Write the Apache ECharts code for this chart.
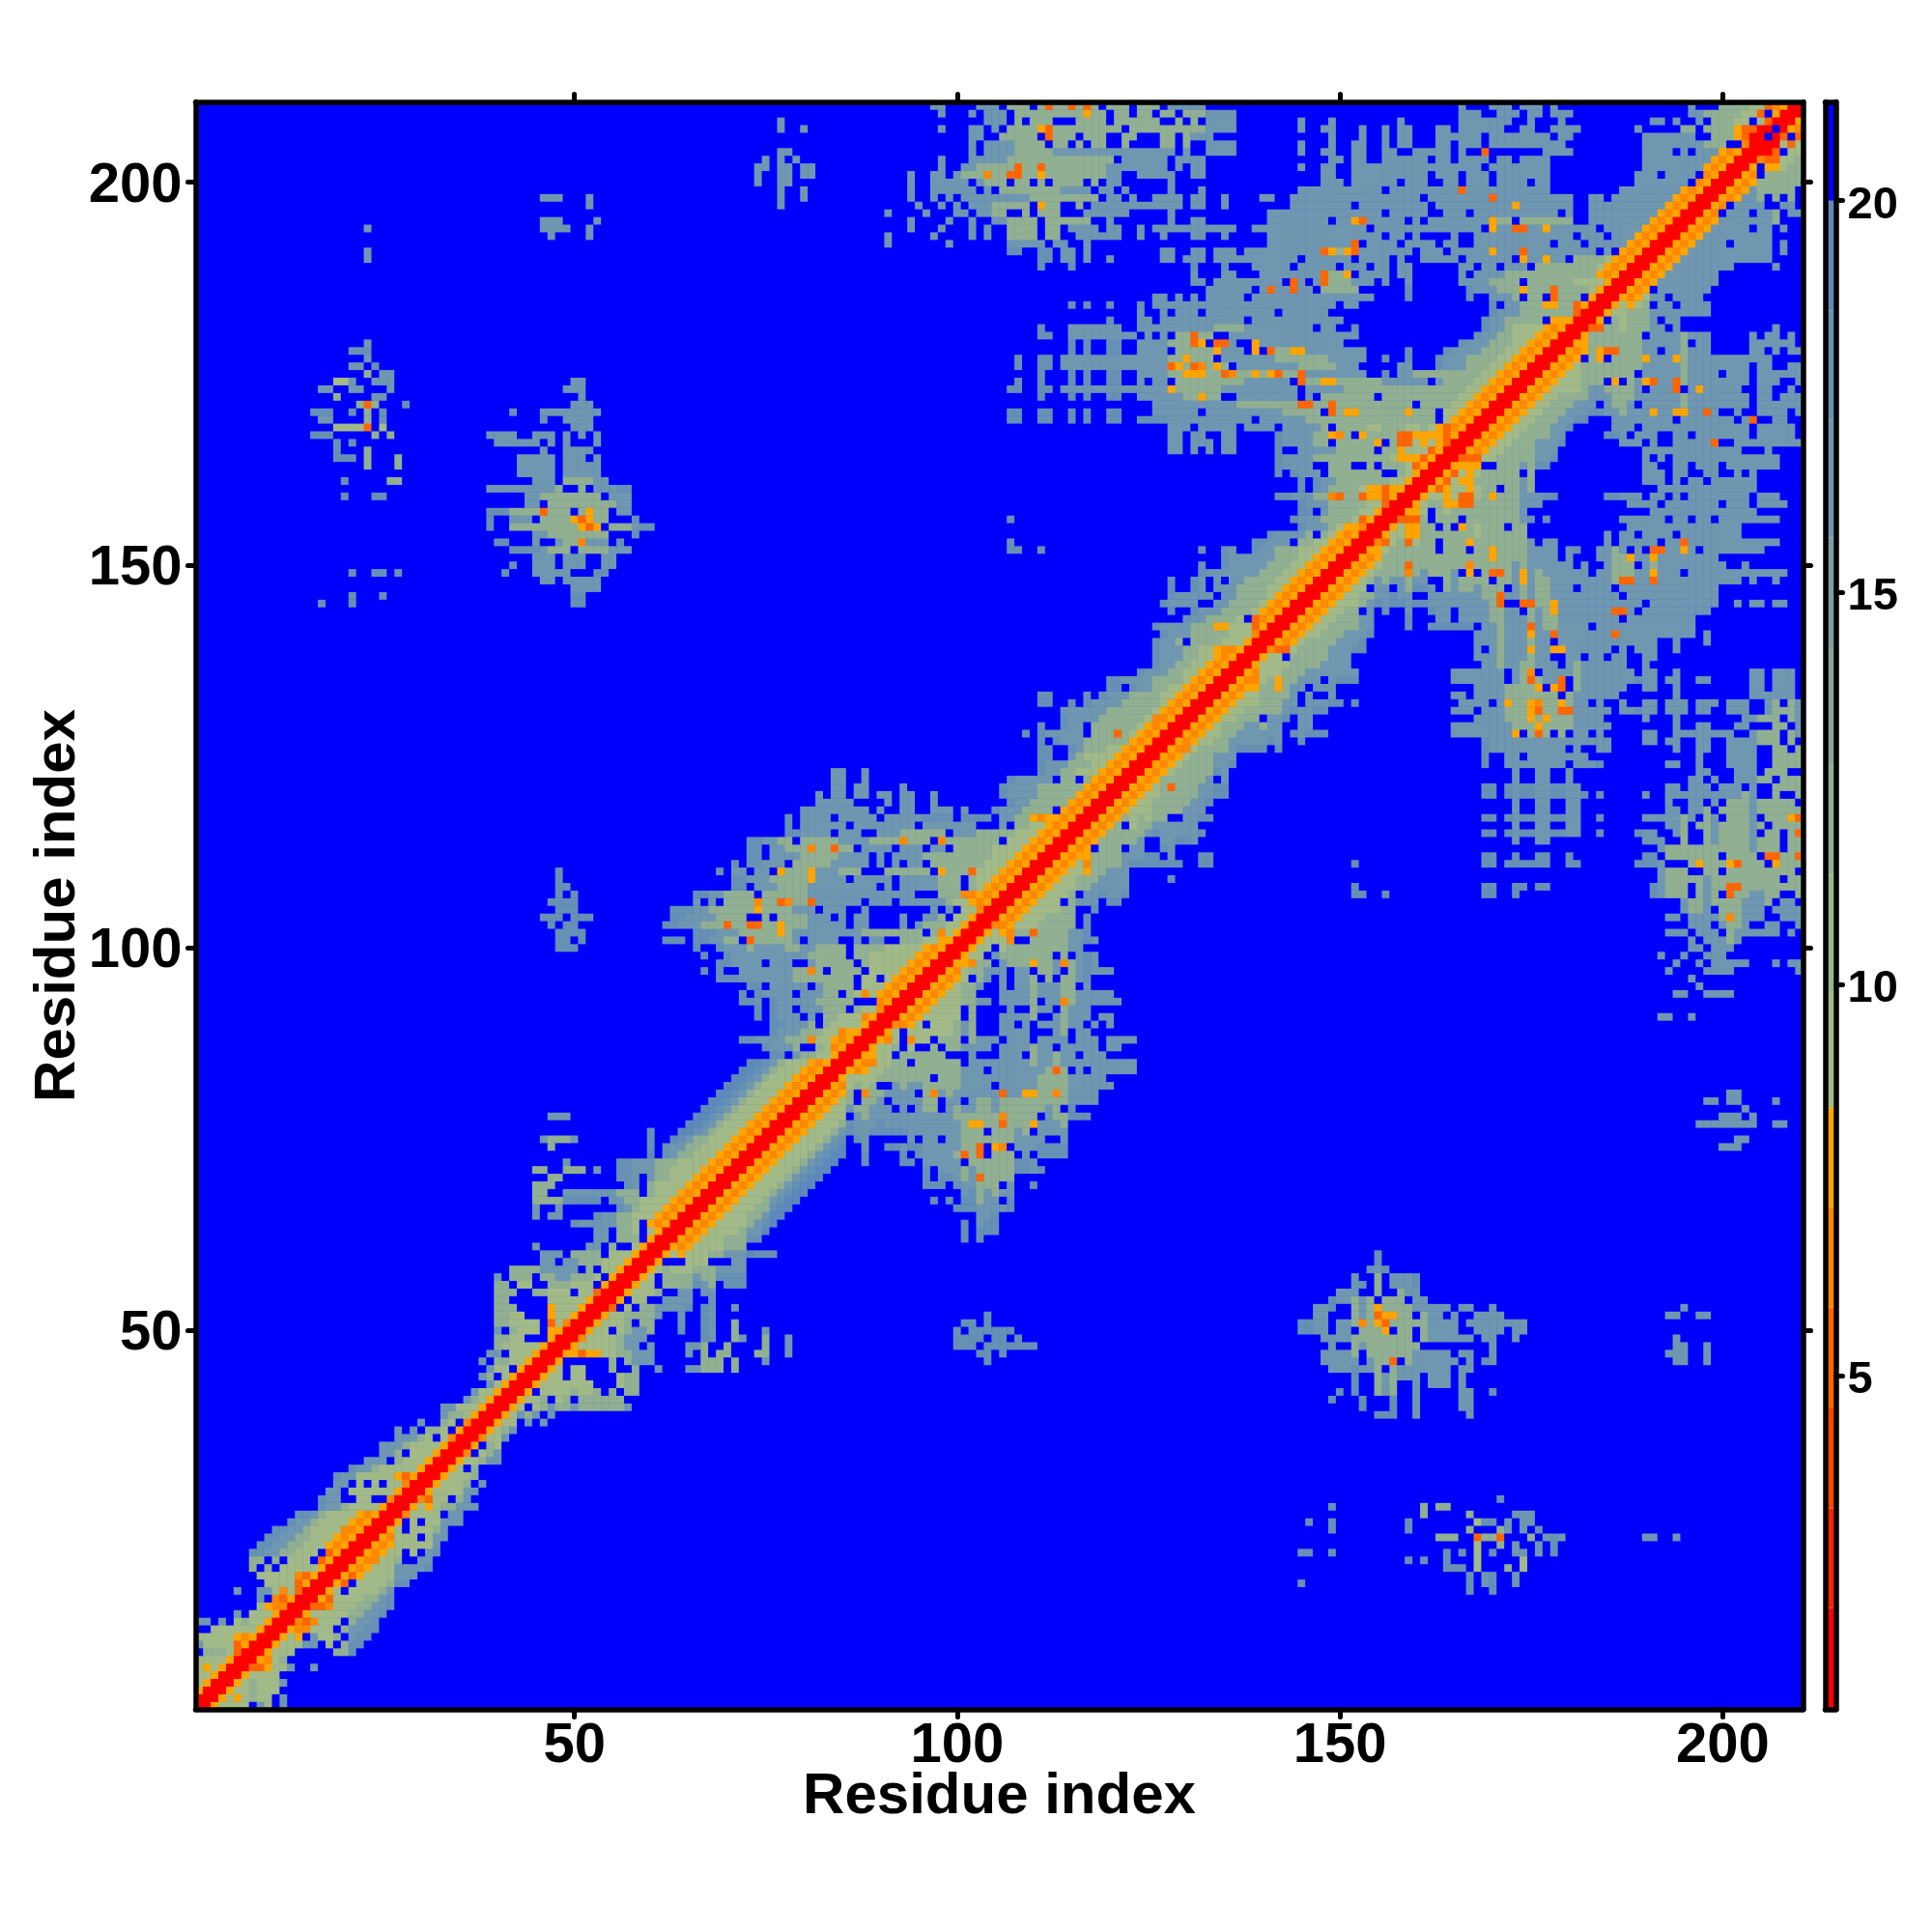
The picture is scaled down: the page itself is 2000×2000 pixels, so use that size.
<!DOCTYPE html>
<html><head><meta charset="utf-8">
<script src="https://cdn.jsdelivr.net/npm/echarts@6/dist/echarts.min.js"></script>
<style>html,body{margin:0;padding:0;background:#fff}#c{width:2000px;height:2000px}</style>
</head><body><div id="c"></div>
<script>
const residueCount = 210;
const axisTickResidues = [50, 100, 150, 200];
const colorbarTicks = [5, 10, 15, 20];
const colorBreaks = [0.746, 2.04, 3.31, 4.6, 5.87, 7.15, 8.43, 9.9, 11.4, 12.8, 14.3, 15.7, 17.2, 18.6, 20, 21.26];
const colorBands = ['#ff0000','#ff2200','#ff4500','#ff6600','#ff8800','#ffa500','#a2ba87','#9bb68c','#91af91','#87a798','#7d9ea0','#6f97b0','#6690b4','#5e89b8','#0000ff'];
const symbolDistance = {R:1.4,O:5.2,D:6.5,Y:7.8,'1':9.2,'2':12,'3':16.5,'4':18,'5':19,'6':19.3};
const farDistance = 21;
// One entry per row of the triangle left of the diagonal. "col:cells" starts at a column; the piece without a colon ends on the diagonal.
const contactRows = [
"1|R","2|RR","3|YRR","4|1YRR","5|11YRR","6|1Y1YRR","7|1111YRR","8|.2221ORR","9|31111OYRR","10|11111YDYRR",
"11|..111111YRR","12|33.3.1211YRR","13|.....3.111YRR","14|1YDDRR","15|3.DOYRR","16|6:3 331D1ORR","17|1111OYRR","18|11111DOYRR","19|2.2.11111YRR","20|22.2.111.OYRR",
"21|44332211 1.OYRR","22|443322111YDYRR","23|443322111YDYRR","24|443321111DDYRR","25|43321111YDYRR","26|44321111YDYRR","27|43321111YRR","28|433..11..DRR","29|33.111111YRR","30|33.1.1.11DRR",
"31|43311111YOYRR","32|433211111YRR","33|333.2111YRR","34|332.111YRR","35|33321111YRR","36|33321.1DRR","37|3.3.221.YRR","38|3..21.DRR","39|3221YRR","40|33111YRR",
"41|321YRR","42|311YRR","43|31YRR","44|32.1YRR","45|311.YRR","46|3.2211YRR","47|33.111YRR","48|211111YRR","49|2211...YRR","50|3.2111.YYRR",
"51|221111.O1DRR","52|2211...Y11YRR","53|222....Y111YRR","54|22.....11111YRR","55|222..22111.11ORR","56|22.11..222111.YRR","57|3.222.22332221.YRR","58|222233333.2.11YRR","59|33.33222111YRR","60|333.2222.111YRR",
"61|45:3 33.2..1YRR","62|33.222.YRR","63|33.221.1YRR","64|433333221.YDYRR","65|45:3 47:33 43322111YDYRR","66|45:3 48:3 432111YDYRR","67|45:2222 44444.33221111YDYRR","68|45:22 3333333222.2111YDYRR","69|45:222 43.21111YDYRR","70|47:22 443.3221 11YDYRR",
"71|45:22 49:222 53:3 44333221111YDYRR","72|49:3 44333222 1111YDYRR","73|5.4322111YDYRR","74|47:2 4.4332 2111YDYRR","75|46:32223 4..54322111YDYRR","76|60:4 65432111YDYRR","77|65432111YDYRR","78|47:333 65432111YDYRR","79|65432111YDYRR","80|65432111YDYRR",
"81|65432111YDYRR","82|65432111YDYRR","83|65432111YDYRR","84|65432111YDYRR","85|65432111YDYRR","86|44.32211YRR","87|43332..21DYRR","88|443333222D11YDYRR","89|433322211DYYRR","90|443332.21111YRR",
"91|74:4 4333.3.22111DYRR","92|74:4 433.333222.211DRR","93|72:443 43333322222...DYRR","94|4.43333.33322.21D1YDYRR","95|44.33333.32222.111YDYRR","96|444333333322222222.11.1YDYRR","97|67:4 69:4 333333322D2.2222.1111YDYRR","98|443333.333..322222.211111YDYRR","99|67:4 4333333333322222.22111111YDYRR","100|48:444 66:4 43332333322332222.222211111YDYRR",
"101|48:44 51:4 62:444 443322.O222223.3333..3.33..22211YYRR","102|48:4444 44433322222Y233333333322222222.2D1YRR","103|47:4 49:44 44333222O22OO22Y22233333.33....3.3222 11YRR","104|46:444 50:444 4433332222..2.2222333.3.33....3..332.11YRR","105|48:444 44433222222Y2222333.333..3........3.3.11DRR","106|47:4444 3.3.2222D22OD22O333333.333.333333211YDYRR","107|48:4 50:4 44332222.22222233333333333333...222DDYDYRR","108|48:44 44.3332222333333333.3.33333222.21YDYRR","109|48:4 4433322222Y3333.33333.33333222.211YDYRR","110|48:4 69:4 33.33.Y222Y333222...222222.Y222O111YDYRR",
"111|71:4 44333.2222233333.3.3.33.2222222111YDYRR","112|44.3333222223333.3.3333222222222111YDYRR","113|44.33222D22O22.3333.333.33.222221111YDYRR","114|443322.2222233332222D222.D2222222.111YDYRR","115|443333.333..333222222.33322222111YDYRR","116|4.333333.33333333.3333333...3.2211YDYRR","117|4.3333.33333.333334444.4444.3322YDYYDYRR","118|80:333333333.3 93:33 97:333 101:3 43332222.YDYRR","119|82:33333 91:3 93:33 97:3 43322222YDYRR","120|82:3 84:33 87:33 90:33 93:33 97:3 4333322222YDYRR",
"121|84:33 87:33 93:3 43333222222YDYRR","122|84:33 88:3 433333.22.2YDYRR","123|84:33 88:3 43322111YDYRR","124|433322211YDYRR","125|111:44 321111YDYRR","126|111:44 4322211YDYRR","127|4.4333222222YDYRR","128|109:4 433333.222O21YDYRR","129|4..433.2222221YDYRR","130|433332222221DDYRR",
"131|3333332222221YDYRR","132|111:44 115:4 43333222221YDYRR","133|111:44 117:4 4333222211YDYRR","134|44.4332211YDYRR","135|44333322221YDYRR","136|43332211YDYRR","137|4332211YDYRR","138|43332211YDYRR","139|43332211YDDYRR","140|4332.2222111YRR",
"141|433322222111DRR","142|43333222YY111OYRR","143|43322221.ODYRR","144|4..433322221YDYRR","145|17:4 21:4 50:44 43333..332222 1YDYRR","146|21:4 25:4 50:44 433333.3322221YDYRR","147|50:3333 128:4 43.33322221 1YDYRR","148|46:33 49:33333 128:4 43.3.33222211YDYRR","149|21:4 24:44 27:4 41:4 45:33333 53:44 4333333322211YDYRR","150|42:4 45:333 49:333 54:33 132:4 43333322211YDYRR",
"151|45:333 49:333 54:33 433333322211YDYRR","152|42:4444 46:3222 51:2222333 107:44 111:4 132:4 43..43322 2111YDYRR","153|40:44 45:3..322D333 56:4 107:4 443 33.2211YDYRR","154|45:3322222222 58:4 433332.21YDYRR","155|39:4 42:222222222YOY.222344 433321YYDRR","156|39:4 42:333 46:2222YOY22 58:4 107:4 4333222 21OYRR","157|39:444 42:2222O222.2Y22 56:33 44.3222211YRR","158|44:33 47:222222222 56:33 43332222211ORR","159|20:4 24:44 44:3322222222.333 4433322DO22OYYOYRR","160|39:3333333332..2.33344 4.432222 1YYOYYRR",
"161|20:4 26:22 45:333 49:222233 4.43322222221 1YRR","162|43:33333 49:33333 4.4333.2222222..21YRR","163|23:2 27:2 43:33333 49:33333 43333..222..2.2221OYRR","164|19:444 23:2 27:2 43:33333 49:333 53:3 4333322222222221YYYOYRR","165|19:4 23:2 46:3 49:3333 128:33 131:3 133:3 135:33 4..3333322222.22Y111OYRR","166|19:4 21:4 40:333333 47:3 49:3 53:3 128:33 131:333 135:33 4333322.22222Y.2OO1Y1YORR","167|16:444 24:2 26:2 39:3333 45:333 49:3 51:3 53:3 128:33 131:33 135:33 43333 22YD2.Y2222OOYYYYOYRR","168|19:1111O.1 50:333 333.33333.3333.333332.2222112221121YODYRR","169|17:33 23:2 25:4 46:4 49:3333 107:44 111:44 115:4 117:4 120:44 124:44444 33333333333.33333322222222222222222.1YDYRR","170|16:444 21:4 23:2 25:4 42:4 46:33333333 107:44 111:44 115:4 117:4 120:44 333333.333333333322222.O2YY222222Y222.11YDYRR",
"171|22:2O2 28:4 50:333 3333333333322222222OO22O2222222222.222211YDYRR","172|19:2 24:33 51:3 111:4 115:4 117:4 120:44 33333322Y22..33333333.3.2222222.222222222211YDYRR","173|17:33 21:33 26:3 49:333 107:44 111:44 33333333333333Y2222223333333333.33333222222222222222211YDYRR","174|19:11 21:3 24:333 50:33 108:4 111:4 115:4 117:4 120:44 124:3 33.222222222333333.O22YY222222333333.3222211YDYRR","175|23:2 25:33 111:4 115:4 117:4 120:44 333322YYY22OD22Y2YO22O33333333..4.3322222222211YDYRR","176|21:33 24:4 108:4 111:44 114:33333333333333OY2OD2Y2.3333333322222333 158:33 433322 2 11YDYRR","177|23:3 108:4 111:44 114:33333333333333 128:22Y222.3333333222222233333 156:4 159:4 433322221 1YDYRR","178|21:444 115:4 117:4 120:44 124:3333.22222Y333.Y.O22YY33333333 159:4 433332 2211YDYRR","179|23:3 115:4 117:4 120:44 124:3333222 131:OY.OO3..Y33333333333 43332 2211YDYRR","180|111:44 115:333333333 124:.3.3.22O22..33333333333333333 43322111YDYRR",
"181|111:4 115:333 118:3333 124:33333333332222333333333.33 152:4 43321111YDYRR","182|120:4 124:33 127:33333333333.333333333333 43322222 .YYYRR","183|124:3 127:3.333.333333333.333333 43332222222ORR","184|115:4 117:4 120:4 124:4 126:333333333333333333333333.33 4.3322 2YY22OYRR","185|126:33.3.3.33333.3333333333333333 159:4 4..333 2.22.O222.YRR","186|133:333333.3O33O33.22222 159:4 43332 22Y222O2222 1YRR","187|131:33 134:333333333.O3.3O222333.3 159:3 3333 2222.222222 1111YRR","188|131:3 135:33 140:33333333O22Y 153:3333.33 3.3333222222222222YDYRR","189|111:4 115:4 131:4 135:4 139:33333.33333.33 153:3.33.33 33.33.333.22222222 1YDYRR","190|23:3 111:44 114:33 117:3 120:3 127:33 130:333 134:33333333333.333333 153:3333.3..33333.333333.Y33Y33. 22221YDYRR",
"191|23:3 107:44 111:44 114:33 117:3 127:33 131:33 134:333 138:3333333333OY2YO 153:3333333.333.33333Y333O333333333.3.YDYRR","192|91:3 99:3 107:33333.33 117:3 141:33333333333 152:O.3333.3333.33..3333333333.333.33333YDYRR","193|47:3 52:3 91:3 97:3 102:3 104:3 107:2222.22..333333 124:3 127:3 131:33 135:3 141:33333333333 152:3333.33.3....3..3333333333333.333.333YDYRR","194|23:3 46:3333 52:3 94:3 98:3 102:3 104:3 107:2222.22.3333.33 124:3 126:33333333333 139:33 141:33333333333 152:33.33333333333333.Y33OO33Y333333.33333YDYRR","195|46:333 53:3 94:3 99:3 102:3 105:33 107:2222.222222 120:3 128:3 131:33 141:33333333 150:33 152:YO33333.3.33333333Y22.2222222..33333333YDYRR","196|91:3 96:3 100:33.3322..2.222...333333 128:3 141:33333333333 152:3333.33333..333.33333333333.3..333333333YDYRR","197|52:3 77:3 95:3 98:3 100:3 102:33322222.Y22..2.333333333333 131:33 135:3 144:33333333 152:.333333333.3333333333Y3333333..3333333333YDYRR","198|46:333 52:3 77:3 80:3 94:3 97:3.3 101:333333333222222222 120:33 123:3 126:3333 131:33 135:3 140:33 144:33333333 152:333333333.33333333O3333333333..33.33333333YDYRR","199|77:3 80:3 94:3 97:333333.3.222222223333.33.3 128:3 132:3 145:3333333 152:3333.333333333O33333333333 187:33333333YDYRR","200|74:3 77:33 94:3 97:33333.3222.22.2.2222.2.33 128:3 148:333 152:333333.333..33.333.3333.33 189:3333333.DYRR",
"201|74:3 77:33 80:33 94:3 97:33 100:3222D22OO22Y2222222233 124:33333 131:33 148:33 152:3333333333.333.333.3333333 189:333.3333.DYRR","202|74:33 77:33 80:33 98:3 101:3322222O22O2222222233333333.3.33 145:3 148:33 152:33333333333333333.33333333 190:33333333YDYRR","203|75:3 77:3 79:3 98:3 102:3333322222222222222.333333.3333 149:33 152:33..333333.33.3333.33.3333 190:333333333YDYRR","204|77:33 102:3.3333222223333333333333333.3..3333 145:3 148:33 152:33..33..33333.3..O.......3333 190:3333.3.333YDYRR","205|102:3.33332222.22.2.22..2....22.2..3333 145:3 149:3 152:33..3.33...33.333.33333333 178:33 190:33333333222..DRR","206|102:33..22222.O222.222..22...22.2333. 149:3 153:3 156:3 158:33 163:333333 170:33333333 179:33 190:3333333 199:222YORR","207|77:3 80:3 98:3 102:33.3.2222YO222222222.22222222223333 145:3 148:33 153:3 156:3 158:33 163:33 166:333333 174:33 178:3333 189:3 195:22 198:2222YOORR","208|77:3 104:333.2.222...2222.222222..2.2.3333 145:3 149:3 158:3 166:3333333 175:3 179:3 191:33 194:3 197:3 22211.1ORR","209|98:3 102:3 104:333 108:222222222Y22.22.22.22.2223333 166:333..333.33.333 332222211O.YRR","210|97:33 103:333.222.2O22O2O2.222.222.33333 166:3...333.333.3. 3...222211ODYRR"
];

function buildMatrix() {
  const m = [];
  for (let y = 0; y < residueCount; y++) m.push(new Array(residueCount).fill(farDistance));
  const put = (col, row, ch) => {
    if (ch === '.' || ch === ' ' || col < 1 || col > row) return;
    const v = symbolDistance[ch];
    m[row - 1][col - 1] = v; m[col - 1][row - 1] = v;
  };
  contactRows.forEach(entry => {
    const [rowText, body] = entry.split('|');
    const row = +rowText;
    const parts = body.split(' ');
    let tail = '';
    parts.forEach(p => {
      const i = p.indexOf(':');
      if (i > 0) { const c = +p.slice(0, i); [...p.slice(i + 1)].forEach((ch, k) => put(c + k, row, ch)); }
      else tail += p;
    });
    [...tail].forEach((ch, k) => put(row - tail.length + 1 + k, row, ch));
  });
  const data = [];
  for (let y = 0; y < residueCount; y++) for (let x = 0; x < residueCount; x++) data.push([x, y, m[y][x]]);
  return data;
}

const residues = Array.from({length: residueCount}, (_, i) => String(i + 1));
const isTick = idx => axisTickResidues.includes(idx + 1);
const frame = {show: true, onZero: false, lineStyle: {color: '#000', width: 5.5, cap: 'round'}};
const mainTick = {show: true, interval: isTick, alignWithLabel: true, length: 8, lineStyle: {color: '#000', width: 5, cap: 'round'}};
const font = {fontFamily: '"Liberation Sans", Arial, sans-serif', fontWeight: 'bold', color: '#000'};

const bandData = colorBands.map((c, i) => [0, colorBreaks[i], colorBreaks[i + 1]]);
const pieces = colorBands.map((c, i) => ({gte: colorBreaks[i], lt: colorBreaks[i + 1], color: c}));

const chart = echarts.init(document.getElementById('c'), null, {renderer: 'canvas', width: 2000, height: 2000});
chart.setOption({
  animation: false,
  backgroundColor: '#ffffff',
  grid: [
    {left: 202.5, top: 105.5, width: 1664, height: 1664, show: true, backgroundColor: '#0000ff', borderWidth: 0},
    {left: 1889.5, top: 105.5, width: 11, height: 1664}
  ],
  visualMap: {type: 'piecewise', show: false, seriesIndex: 0, pieces: pieces, dimension: 2},
  xAxis: [
    {type: 'category', gridIndex: 0, data: residues, position: 'bottom', z: 10, axisLine: frame, axisTick: mainTick,
     axisLabel: {show: true, interval: isTick, margin: 9, fontSize: 58, ...font},
     name: 'Residue index', nameLocation: 'middle', nameMoveOverlap: false, nameGap: 61, nameTextStyle: {fontSize: 60, ...font}},
    {type: 'category', gridIndex: 0, data: residues, position: 'top', z: 10, axisLine: frame, axisTick: mainTick, axisLabel: {show: false}},
    {type: 'category', gridIndex: 1, data: ['bar'], position: 'bottom', z: 10, axisLine: frame, axisTick: {show: false}, axisLabel: {show: false}},
    {type: 'category', gridIndex: 1, data: ['bar'], position: 'top', z: 10, axisLine: frame, axisTick: {show: false}, axisLabel: {show: false}}
  ],
  yAxis: [
    {type: 'category', gridIndex: 0, data: residues, position: 'left', z: 10, axisLine: frame, axisTick: mainTick,
     axisLabel: {show: true, interval: isTick, margin: 14, fontSize: 58, verticalAlign: 'top', lineHeight: 8, ...font},
     name: 'Residue index', nameLocation: 'middle', nameMoveOverlap: false, nameGap: 112, nameRotate: 90, nameTextStyle: {fontSize: 60, ...font}},
    {type: 'category', gridIndex: 0, data: residues, position: 'right', z: 10, axisLine: frame, axisTick: mainTick, axisLabel: {show: false}},
    {type: 'value', gridIndex: 1, position: 'right', min: colorBreaks[0], max: colorBreaks[colorBreaks.length - 1], z: 10, splitLine: {show: false},
     axisLine: frame, axisTick: {show: true, customValues: colorbarTicks, length: 7, lineStyle: {color: '#000', width: 5, cap: 'round'}},
     axisLabel: {show: true, customValues: colorbarTicks, margin: 12, fontSize: 47, verticalAlign: 'top', lineHeight: 10, ...font}},
    {type: 'value', gridIndex: 1, position: 'left', min: colorBreaks[0], max: colorBreaks[colorBreaks.length - 1], z: 10, splitLine: {show: false},
     axisLine: frame, axisTick: {show: false}, axisLabel: {show: false}}
  ],
  series: [
    {type: 'heatmap', xAxisIndex: 0, yAxisIndex: 0, z: 1, data: buildMatrix(), progressive: 0, emphasis: {disabled: true}, itemStyle: {borderWidth: 0}},
    {type: 'custom', xAxisIndex: 2, yAxisIndex: 2, z: 1, data: bandData, silent: true, clip: true,
     encode: {x: 0, y: [1, 2]},
     renderItem: (params, api) => {
       const lo = api.coord([0, api.value(1)]);
       const hi = api.coord([0, api.value(2)]);
       const w = api.size([1, 0])[0];
       return {type: 'rect', shape: {x: lo[0] - w / 2, y: hi[1], width: w, height: lo[1] - hi[1]}, style: {fill: colorBands[params.dataIndex]}};
     }}
  ]
});
</script></body></html>
